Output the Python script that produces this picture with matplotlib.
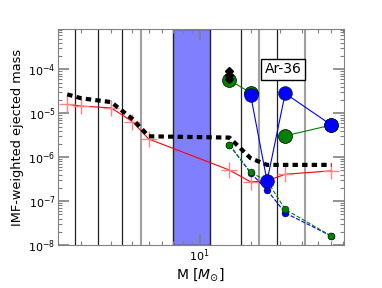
import numpy as np
import matplotlib
matplotlib.use("Agg")
import matplotlib.pyplot as plt

# mass grid (Msun)
masses = [1.65, 2, 3, 4, 5, 15, 20, 25, 32, 60]
red_vals = [1.6e-5, 1.46e-5, 1.33e-5, 6.5e-6, 2.6e-6, 5.1e-7, 2.75e-7, 2.9e-7, 4.1e-7, 4.9e-7]
black_vals = [2.7e-5, 2.2e-5, 1.8e-5, 7.5e-6, 3.0e-6, 2.8e-6, 9.5e-7, 6.7e-7, 6.7e-7, 6.7e-7]

m_high = [15, 20, 25, 32, 60]
blue_big = [np.nan, 2.6e-5, 2.86e-7, 2.84e-5, 5.4e-6]
green_big = [5.7e-5, 2.93e-5, np.nan, 3.07e-6, 5.4e-6]
blue_small = [1.9e-6, 4.4e-7, 1.8e-7, 5.4e-8, 1.6e-8]
green_small = [1.9e-6, 4.5e-7, 2.9e-7, 6.5e-8, 1.6e-8]

diamond_m = [15, 15, 15]
diamond_vals = [9.0e-5, 7.4e-5, 6.2e-5]

dark_lines = [1.83, 2.5, 3.5, 17.5, 28.7]
gray_lines = [4.5, 22.5, 42]
span = (7, 11.5)

fig = plt.figure(figsize=(3.82, 2.88), dpi=100)
ax = fig.add_axes([0.151, 0.149, 0.749, 0.751])
ax.set_xscale("log")
ax.set_yscale("log")

ax.axvspan(span[0], span[1], facecolor="#8080ff", edgecolor="#202020", lw=1, zorder=1)
for m in dark_lines:
    ax.axvline(m, color="#202020", lw=0.9, zorder=1)
for m in gray_lines:
    ax.axvline(m, color="#a0a0a0", lw=1.5, zorder=1)

ax.plot(masses, red_vals, "-", color="red", lw=0.8, zorder=3)
ax.plot(masses, red_vals, "+", ms=12, mew=1, color="#ff8585", zorder=3)
ax.plot(masses, black_vals, color="black", lw=3, dashes=(1.3, 1.0),
        dash_capstyle="butt", zorder=4)

ax.plot(m_high, blue_small, "--", color="blue", lw=0.8, marker="o", ms=5,
        mec="k", mew=0.3, zorder=5)
ax.plot(m_high, green_small, "--", color="green", lw=0.8, marker="o", ms=5,
        mec="k", mew=0.3, zorder=6)
ax.plot(m_high, blue_big, "-", color="blue", lw=0.8, marker="o", ms=10,
        mec="k", mew=0.3, zorder=7)
ax.plot(m_high, green_big, "-", color="green", lw=0.8, marker="o", ms=10,
        mec="k", mew=0.5, zorder=6)
ax.plot(diamond_m, diamond_vals, "D", color="black", ms=4, zorder=8)

ax.text(31, 1.0e-4, "Ar-36", ha="center", va="center", fontsize=10,
        bbox=dict(facecolor="white", edgecolor="black", pad=2.5), zorder=9)

ax.set_xlim(1.45, 71)
ax.set_ylim(1e-8, 8.4e-4)
ax.set_xticks([10])
ax.set_xticklabels(["$10^{1}$"])
ax.set_yticks([1e-8, 1e-7, 1e-6, 1e-5, 1e-4])
ax.set_yticklabels(["$10^{-8}$", "$10^{-7}$", "$10^{-6}$", "$10^{-5}$", "$10^{-4}$"])
ax.tick_params(which="both", direction="in", top=True, right=True, labelsize=8)
ax.tick_params(which="major", length=8, width=1.2, color="#808080", pad=1.5)
ax.tick_params(which="minor", length=3, width=0.8, color="#808080")
for s in ax.spines.values():
    s.set_color("#808080")

ax.set_xlabel(r"M [$M_{\odot}$]", fontsize=10, labelpad=2)
ax.set_ylabel("IMF-weighted ejected mass", fontsize=9.3, labelpad=3)

fig.savefig("out.png", dpi=100)
